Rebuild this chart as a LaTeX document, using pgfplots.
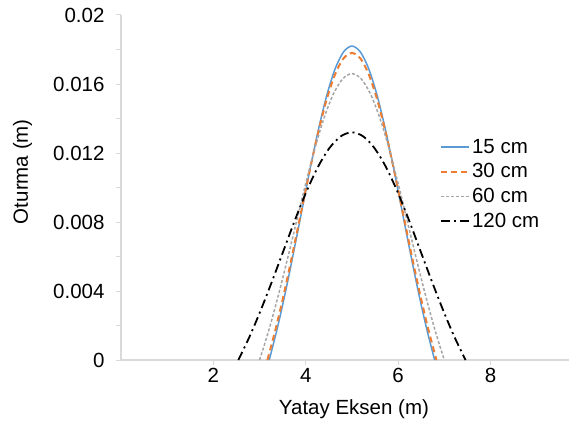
\documentclass[border=0pt]{standalone}
\usepackage{fontspec}
\setmainfont{Liberation Sans}
\usepackage{pgfplots}
\pgfplotsset{compat=1.18}
\definecolor{cblue}{HTML}{5B9BD5}
\definecolor{corange}{HTML}{ED7D31}
\definecolor{cgray}{HTML}{A5A5A5}
\definecolor{axisgray}{HTML}{D9D9D9}
\newcommand{\bigf}{\fontsize{20.5bp}{25bp}\selectfont}
\begin{document}
\begin{tikzpicture}
\begin{axis}[
  width=448bp, height=345bp, scale only axis,
  xmin=0, xmax=9.7, ymin=0, ymax=0.02,
  axis lines=left,
  axis line style={-, draw=axisgray, line width=1.2bp},
  xtick={2,4,6,8},
  ytick={0,0.004,0.008,0.012,0.016,0.02},
  minor ytick={0.002,0.006,0.01,0.014,0.018},
  tick align=outside,
  major tick length=5bp, minor tick length=5bp,
  tick style={draw=axisgray, line width=1bp},
  minor tick style={draw=axisgray, line width=1bp},
  scaled y ticks=false,
  yticklabel style={/pgf/number format/fixed, /pgf/number format/precision=3, xshift=-8bp},
  /pgf/number format/assume math mode=true,
  tick label style={font=\bigf},
  xlabel={Yatay Eksen (m)},
  ylabel={Oturma (m)},
  every axis x label/.style={at={(axis description cs:0.52,-0.159)}, anchor=base, font=\bigf},
  every axis y label/.style={at={(axis description cs:-0.2076,0.546)}, rotate=90, anchor=base, font=\bigf},
  legend style={at={(axis description cs:0.705,0.51)}, anchor=west, draw=none, fill=none, font=\bigf, row sep=5bp},
  legend cell align=left,
  legend image code/.code={\draw[#1] (0bp,0bp) -- (28bp,0bp);},
]
\addplot[cblue, line width=1.5bp, smooth] coordinates {
(3.210,0) (3.389,0.00189) (3.568,0.00403) (3.747,0.00637) (3.926,0.00880) (4.105,0.01122) (4.284,0.01347) (4.463,0.01542) (4.642,0.01692) (4.821,0.01787) (5.000,0.0182)
(5.179,0.01787) (5.358,0.01692) (5.537,0.01542) (5.716,0.01347) (5.895,0.01122) (6.074,0.00880) (6.253,0.00637) (6.432,0.00403) (6.611,0.00189) (6.790,0)
};
\addlegendentry{15 cm}
\addplot[corange, line width=2bp, smooth, dash pattern=on 6bp off 4bp] coordinates {
(3.170,0) (3.353,0.00185) (3.536,0.00394) (3.719,0.00623) (3.902,0.00861) (4.085,0.01097) (4.268,0.01317) (4.451,0.01508) (4.634,0.01655) (4.817,0.01748) (5.000,0.0178)
(5.183,0.01748) (5.366,0.01655) (5.549,0.01508) (5.732,0.01317) (5.915,0.01097) (6.098,0.00861) (6.281,0.00623) (6.464,0.00394) (6.647,0.00185) (6.830,0)
};
\addlegendentry{30 cm}
\addplot[cgray, line width=1.5bp, smooth, dash pattern=on 3bp off 2bp] coordinates {
(3.0,0) (3.2,0.00172) (3.4,0.00368) (3.6,0.00581) (3.8,0.00803) (4.0,0.01023) (4.2,0.01229) (4.4,0.01406) (4.6,0.01543) (4.8,0.01630) (5.0,0.0166)
(5.2,0.01630) (5.4,0.01543) (5.6,0.01406) (5.8,0.01229) (6.0,0.01023) (6.2,0.00803) (6.4,0.00581) (6.6,0.00368) (6.8,0.00172) (7.0,0)
};
\addlegendentry{60 cm}
\addplot[black, line width=1.8bp, smooth, dash pattern=on 9bp off 4bp on 2bp off 4bp] coordinates {
(2.540,0) (2.786,0.00137) (3.032,0.00293) (3.278,0.00462) (3.524,0.00638) (3.770,0.00814) (4.016,0.00977) (4.262,0.01118) (4.508,0.01227) (4.754,0.01296) (5.000,0.0132)
(5.246,0.01296) (5.492,0.01227) (5.738,0.01118) (5.984,0.00977) (6.230,0.00814) (6.476,0.00638) (6.722,0.00462) (6.968,0.00293) (7.214,0.00137) (7.460,0)
};
\addlegendentry{120 cm}
\end{axis}
\pgfresetboundingbox
\path ([shift={(-121bp,-68bp)}]current axis.south west) rectangle ([shift={(0bp,15bp)}]current axis.north east);
\end{tikzpicture}
\end{document}
